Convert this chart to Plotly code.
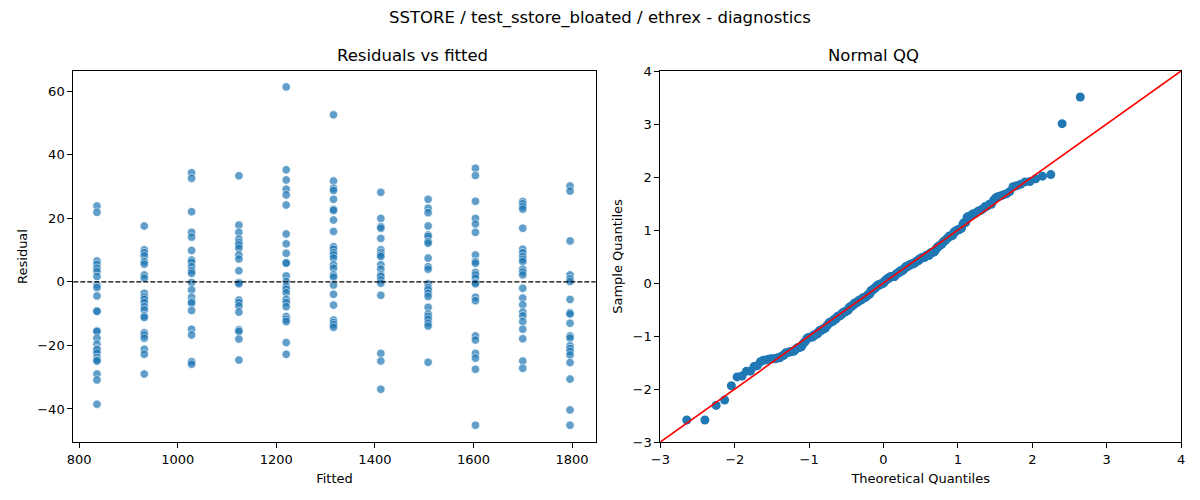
import plotly.graph_objects as go
from statistics import NormalDist, mean, pstdev

# fitted value of each group (x columns on the left panel)
fitted_levels = [836, 932, 1028, 1124, 1220, 1316, 1412, 1508, 1604, 1700, 1796]

# residuals per fitted level
res_836 = [23.9, 21.9, 6.6, 5.5, 4.3, 3.3, 1.7, -1.0, -1.8, -4.4, -9.1, -9.3, -15.4, -15.6,
           -17.7, -19.6, -21.1, -21.4, -22.4, -23.8, -24.6, -24.9, -29.0, -30.9, -38.5]
res_932 = [17.6, 10.1, 9.2, 8.2, 6.4, 5.6, 2.2, 1.2, -3.6, -4.8, -5.5, -6.5, -7.8, -8.8,
           -10.7, -11.2, -16.0, -16.7, -17.7, -21.2, -22.8, -29.0]
res_1028 = [34.4, 32.6, 22.1, 15.6, 14.1, 9.9, 6.9, 6.2, 4.8, 3.5, 2.7, -0.2, -2.5, -4.8,
            -6.2, -6.7, -9.0, -14.9, -16.7, -25.1, -25.9]
res_1124 = [33.4, 17.9, 15.6, 13.5, 12.4, 11.6, 10.6, 8.5, 7.2, 3.5, -0.2, -0.6, -5.7, -6.5,
            -7.6, -9.5, -15.1, -15.6, -18.0, -24.6]
res_1220 = [61.4, 35.3, 32.1, 29.2, 27.4, 24.2, 15.1, 12.0, 9.0, 6.1, 5.9, 1.9, 0.1, -1.5,
            -2.3, -3.4, -5.5, -6.5, -7.8, -10.9, -11.8, -12.5, -19.1, -22.8]
res_1316 = [52.6, 31.8, 29.5, 28.8, 26.0, 22.9, 22.5, 19.5, 15.9, 11.1, 10.3, 9.2, 8.5, 7.5,
            5.4, 4.3, 2.2, 1.5, -1.0, -3.9, -7.3, -12.0, -12.8, -13.5, -14.3]
res_1412 = [28.2, 20.0, 17.4, 16.9, 13.7, 10.1, 9.2, 8.5, 8.0, 5.4, 4.0, 2.2, 1.7, 0.6,
            -0.4, -4.2, -22.5, -24.9, -33.8]
res_1508 = [26.0, 23.2, 21.8, 17.6, 14.8, 14.3, 12.7, 12.2, 7.5, 4.8, 4.0, -0.6, -1.8, -2.5,
            -3.6, -4.6, -8.0, -10.1, -10.9, -11.8, -13.0, -13.9, -25.3]
res_1604 = [35.8, 33.5, 25.4, 20.0, 18.2, 15.6, 8.5, 6.4, 5.9, 3.0, 2.2, 1.2, -0.2, -0.6,
            -4.8, -5.9, -17.0, -18.3, -22.5, -24.0, -27.5, -45.1]
res_1700 = [25.3, 24.6, 23.7, 22.9, 16.9, 10.3, 9.2, 8.0, 7.1, 6.4, 4.0, 3.1, 2.2, -2.0,
            -5.1, -7.2, -9.5, -10.7, -12.5, -14.9, -17.9, -24.9, -27.2]
res_1796 = [30.2, 28.6, 12.9, 2.2, 0.9, 0.1, -5.5, -9.7, -10.1, -13.0, -17.0, -17.7, -20.1,
            -21.0, -21.9, -23.0, -25.4, -30.6, -40.3, -45.1]

groups = [res_836, res_932, res_1028, res_1124, res_1220, res_1316,
          res_1412, res_1508, res_1604, res_1700, res_1796]

fitted = []
resid = []
for lvl, g in zip(fitted_levels, groups):
    fitted.extend([lvl] * len(g))
    resid.extend(g)

# normal QQ (standardised residuals against normal quantiles)
n = len(resid)
m = mean(resid)
s = pstdev(resid)
sample_q = sorted([(r - m) / s for r in resid])
theo_q = [NormalDist().inv_cdf(i / (n + 1)) for i in range(1, n + 1)]

BLUE = '#1f77b4'
FONT = 'DejaVu Sans'

fig = go.Figure()

fig.add_trace(go.Scatter(
    x=fitted, y=resid, mode='markers',
    marker=dict(color=BLUE, size=8.5, opacity=0.7, line=dict(color='white', width=0.75)),
    xaxis='x', yaxis='y', showlegend=False,
))
fig.add_trace(go.Scatter(
    x=theo_q, y=sample_q, mode='markers',
    marker=dict(color=BLUE, size=9),
    xaxis='x2', yaxis='y2', showlegend=False,
))
fig.add_trace(go.Scatter(
    x=[-3, 4], y=[-3, 4], mode='lines',
    line=dict(color='red', width=1.6),
    xaxis='x2', yaxis='y2', showlegend=False,
))

fig.add_shape(type='line', xref='x domain', yref='y', x0=0, x1=1, y0=0, y1=0,
              line=dict(color='black', width=1.2, dash='5px,2px'))

axis_style = dict(
    showgrid=False, zeroline=False, showline=True, mirror=True, automargin=False,
    linecolor='black', linewidth=1.1, ticks='outside', ticklen=5,
    tickcolor='black', tickwidth=1.1,
    tickfont=dict(family=FONT, size=13, color='black'),
)

fig.update_layout(
    width=1200, height=500,
    margin=dict(l=0, r=0, t=0, b=0),
    paper_bgcolor='white', plot_bgcolor='white',
    font=dict(family=FONT, color='black'),
    xaxis=dict(domain=[0.0611, 0.4964], range=[788, 1848], tickvals=[800, 1000, 1200, 1400, 1600, 1800],
               title=dict(text='Fitted', font=dict(size=13), standoff=8), **axis_style),
    yaxis=dict(domain=[0.116, 0.858], range=[-50.4, 66.4], tickvals=[-40, -20, 0, 20, 40, 60],
               title=dict(text='Residual', font=dict(size=13), standoff=6), **axis_style),
    xaxis2=dict(domain=[0.5503, 0.9842], range=[-3, 4], tickvals=list(range(-3, 5)), anchor='y2',
                title=dict(text='Theoretical Quantiles', font=dict(size=13), standoff=8), **axis_style),
    yaxis2=dict(domain=[0.116, 0.858], range=[-3, 4], tickvals=list(range(-3, 5)), anchor='x2',
                title=dict(text='Sample Quantiles', font=dict(size=13), standoff=6), **axis_style),
    annotations=[
        dict(text='SSTORE / test_sstore_bloated / ethrex - diagnostics', x=0.5, y=1 - 18 / 500,
             xref='paper', yref='paper', showarrow=False, yanchor='middle',
             font=dict(family=FONT, size=16.5, color='black')),
        dict(text='Residuals vs fitted', x=(0.0611 + 0.4964) / 2, y=1 - 56 / 500,
             xref='paper', yref='paper', showarrow=False, yanchor='middle',
             font=dict(family=FONT, size=16.5, color='black')),
        dict(text='Normal QQ', x=(0.5503 + 0.9842) / 2, y=1 - 56 / 500,
             xref='paper', yref='paper', showarrow=False, yanchor='middle',
             font=dict(family=FONT, size=16.5, color='black')),
    ],
)

# page body has an 8px default margin; drop it so the figure sits at the window corner
fig.write_html('out.html', config={'displayModeBar': False},
               post_script="document.body.style.margin='0';")
